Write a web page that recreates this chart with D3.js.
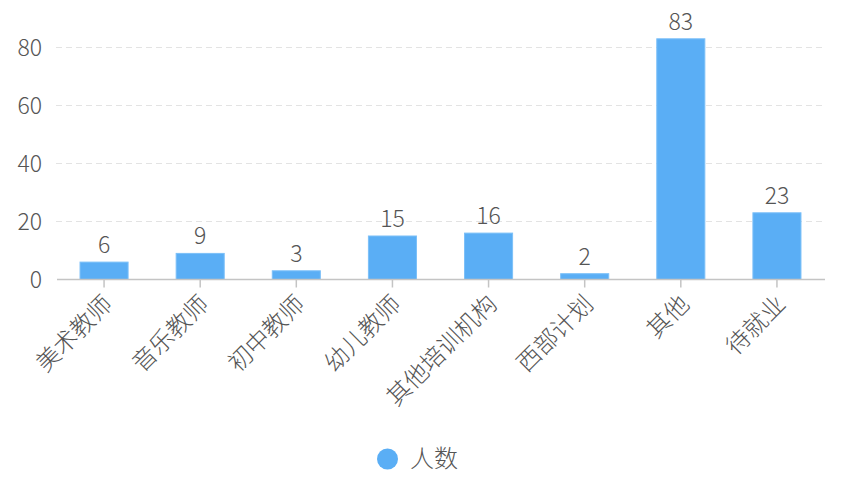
<!DOCTYPE html>
<html><head><meta charset="utf-8">
<script src="https://cdn.jsdelivr.net/npm/d3@7/dist/d3.min.js"></script>
<style>body{margin:0;background:#fff;} text{font-family:"Noto Sans CJK SC","Noto Sans",sans-serif;font-weight:300;}</style>
</head><body>
<svg id="c" width="842" height="478"></svg>
<script>
const categories = ["美术教师","音乐教师","初中教师","幼儿教师","其他培训机构","西部计划","其他","待就业"];
const values = [6, 9, 3, 15, 16, 2, 83, 23];
const yTicks = [0, 20, 40, 60, 80];
const seriesName = "人数";

const svg = d3.select("#c");
const m = {left: 56, right: 825, top: 47.5, bottom: 279.5};
const x = d3.scaleBand().domain(categories).range([m.left, m.right]).paddingInner(0.5).paddingOuter(0.25);
const y = d3.scaleLinear().domain([0, 80]).range([m.bottom, m.top]);
const col = "#5aaef5";
const txt = "#555";

// grid
svg.append("g").selectAll("line").data(yTicks.filter(d => d > 0)).join("line")
  .attr("x1", m.left).attr("x2", m.right)
  .attr("y1", d => y(d)).attr("y2", d => y(d))
  .attr("stroke", "#e3e3e3").attr("stroke-width", 1).attr("stroke-dasharray", "6,4");

// y labels
svg.append("g").selectAll("text").data(yTicks).join("text")
  .attr("x", 42).attr("y", d => y(d)).attr("dy", "0.35em")
  .attr("text-anchor", "end").attr("font-size", 23).attr("fill", txt).text(d => d);

// bars
svg.append("g").selectAll("rect").data(values).join("rect")
  .attr("x", (d, i) => x(categories[i])).attr("width", x.bandwidth())
  .attr("y", d => y(d)).attr("height", d => y(0) - y(d))
  .attr("fill", col).attr("stroke", "#7cc0f8").attr("stroke-width", 1);

// value labels
svg.append("g").selectAll("text").data(values).join("text")
  .attr("x", (d, i) => x(categories[i]) + x.bandwidth() / 2).attr("y", d => y(d) - 9)
  .attr("text-anchor", "middle").attr("font-size", 23).attr("fill", txt).text(d => d);

// x axis
svg.append("line").attr("x1", 57).attr("x2", 825).attr("y1", y(0)).attr("y2", y(0))
  .attr("stroke", "#c4c4c4").attr("stroke-width", 1.5);
svg.append("g").selectAll("line").data(categories).join("line")
  .attr("x1", d => x(d) + x.bandwidth() / 2).attr("x2", d => x(d) + x.bandwidth() / 2)
  .attr("y1", y(0)).attr("y2", y(0) + 8).attr("stroke", "#c4c4c4").attr("stroke-width", 1.5);

svg.append("g").selectAll("text").data(categories).join("text")
  .attr("transform", d => `translate(${x(d) + x.bandwidth() / 2 + 4},${y(0) + 20}) rotate(-45)`)
  .attr("text-anchor", "end").attr("dy", "0.35em").attr("font-size", 24).attr("fill", txt).text(d => d);

// legend
svg.append("circle").attr("cx", 387.5).attr("cy", 459).attr("r", 10.5).attr("fill", col);
svg.append("text").attr("x", 410).attr("y", 459).attr("dy", "0.35em").attr("font-size", 24).attr("fill", txt).text(seriesName);
</script>
</body></html>
